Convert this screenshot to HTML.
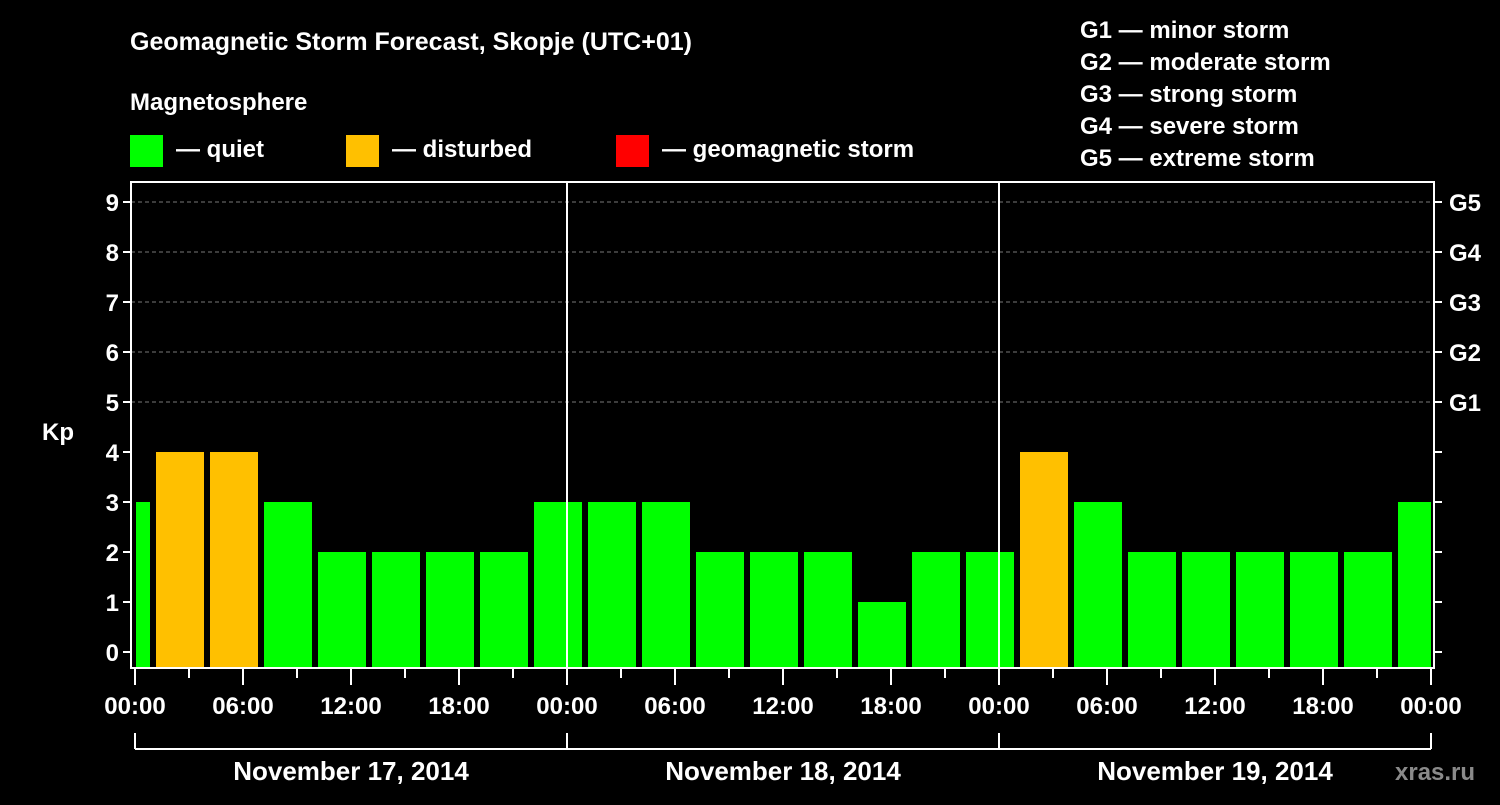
<!DOCTYPE html>
<html><head><meta charset="utf-8"><style>
body{margin:0;background:#000;width:1500px;height:800px;overflow:hidden}
text{font-family:"Liberation Sans",Arial,sans-serif;font-weight:bold;fill:#fff}
</style></head><body>
<svg width="1500" height="800" xmlns="http://www.w3.org/2000/svg">
<text x="130" y="50" font-size="25">Geomagnetic Storm Forecast, Skopje (UTC+01)</text>
<text x="130" y="110" font-size="24">Magnetosphere</text>
<g>
<rect x="130" y="135" width="33" height="32" fill="#00ff00"/>
<text x="176" y="157" font-size="24">— quiet</text>
<rect x="346" y="135" width="33" height="32" fill="#ffc000"/>
<text x="392" y="157" font-size="24">— disturbed</text>
<rect x="616" y="135" width="33" height="32" fill="#ff0000"/>
<text x="662" y="157" font-size="24">— geomagnetic storm</text>
</g>
<g font-size="24">
<text x="1080" y="38">G1 — minor storm</text>
<text x="1080" y="70">G2 — moderate storm</text>
<text x="1080" y="102">G3 — strong storm</text>
<text x="1080" y="134">G4 — severe storm</text>
<text x="1080" y="166">G5 — extreme storm</text>
</g>
<g id="plot"></g>
<text x="1395" y="780" font-size="24" fill="#888" style="fill:#8a8a8a">xras.ru</text>
</svg>
<script>
const kpValues=[3,4,4,3,2,2,2,2,3,3,3,2,2,2,1,2,2,4,3,2,2,2,2,2,3];
const slotStartHours=[-2,1,4,7,10,13,16,19,22,25,28,31,34,37,40,43,46,49,52,55,58,61,64,67,70];
const yTicks=[0,1,2,3,4,5,6,7,8,9];
const gLabels=["","","","","","G1","G2","G3","G4","G5"];
const xTickLabels=["00:00","06:00","12:00","18:00","00:00","06:00","12:00","18:00","00:00","06:00","12:00","18:00","00:00"];
const dayLabels=["November 17, 2014","November 18, 2014","November 19, 2014"];
const NS="http://www.w3.org/2000/svg";
const g=document.getElementById('plot');
const L=131,R=1434,T=182,B=668,X0=135,PXH=18;
const x=h=>X0+h*PXH, y=v=>652-v*50;
function el(t,a,p){const e=document.createElementNS(NS,t);for(const k in a)e.setAttribute(k,a[k]);(p||g).appendChild(e);return e;}
// grid
yTicks.forEach((v,i)=>{if(v>=5){const l=el('line',{x1:L,x2:R,y1:y(v),y2:y(v),stroke:'#777','stroke-dasharray':'4,3','stroke-width':1});
}});
// bars
kpValues.forEach((v,i)=>{let a=x(slotStartHours[i])+3,b=x(slotStartHours[i]+3)-3;a=Math.max(a,L+5);b=Math.min(b,x(72));
const r=el('rect',{x:a,y:y(v),width:b-a,height:B-y(v),fill:v>=5?'#ff0000':v>=4?'#ffc000':'#00ff00'});
});
// day separators
[24,48].forEach(h=>{const l=el('line',{x1:x(h),x2:x(h),y1:T,y2:B,stroke:'#fff','stroke-width':2});
});
// frame
const f=el('rect',{x:L,y:T,width:R-L,height:B-T,fill:'none',stroke:'#fff','stroke-width':2});

// y ticks
yTicks.forEach((v,i)=>{el('line',{x1:L-8,x2:L,y1:y(v),y2:y(v),stroke:'#fff','stroke-width':2});
el('line',{x1:R,x2:R+8,y1:y(v),y2:y(v),stroke:'#fff','stroke-width':2});
const t=el('text',{x:L-12,y:y(v)+9,'font-size':24,'text-anchor':'end'});t.textContent=v;

if(gLabels[i]){const t2=el('text',{x:R+15,y:y(v)+9,'font-size':24});t2.textContent=gLabels[i];
}});
const kp=el('text',{x:42,y:440,'font-size':24});kp.textContent='Kp';

// x ticks
for(let h=0;h<=72;h+=3){const major=h%6==0;el('line',{x1:x(h),x2:x(h),y1:B,y2:B+(major?17:10),stroke:'#fff','stroke-width':2});}
xTickLabels.forEach((s,i)=>{const t=el('text',{x:x(i*6),y:714,'font-size':24,'text-anchor':'middle'});t.textContent=s;
});
// day bracket
el('line',{x1:x(0),x2:x(72),y1:749,y2:749,stroke:'#fff','stroke-width':2});
[0,24,48,72].forEach(h=>el('line',{x1:x(h),x2:x(h),y1:733,y2:749,stroke:'#fff','stroke-width':2}));
dayLabels.forEach((s,i)=>{const t=el('text',{x:x(i*24+12),y:780,'font-size':26,'text-anchor':'middle'});t.textContent=s;
});
</script>
</body></html>
